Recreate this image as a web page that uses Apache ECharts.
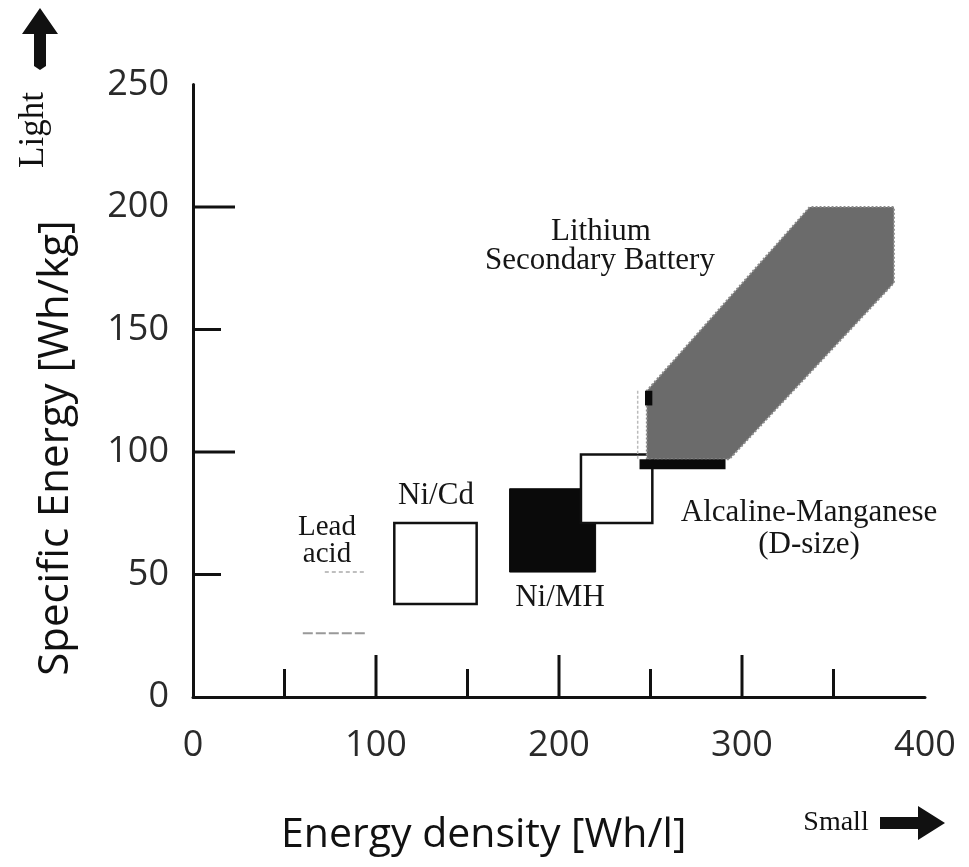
<!DOCTYPE html>
<html>
<head>
<meta charset="utf-8">
<script src="https://cdn.jsdelivr.net/npm/echarts@6/dist/echarts.min.js"></script>
<style>
html,body{margin:0;padding:0;background:#fff;}
#chart{width:969px;height:867px;}
</style>
</head>
<body>
<div id="chart"></div>
<script>
// ---- data ----
const xTickLabels = [0, 100, 200, 300, 400];
const yTickLabels = [0, 50, 100, 150, 200, 250];
const xMajorTicks = [100, 200, 300];
const xMinorTicks = [50, 150, 250, 350];
const yMajorTicks = [100, 200];
const yMinorTicks = [50, 150];

// rectangular battery regions: energy density [Wh/l] x specific energy [Wh/kg]
const batteryNames = ['Ni/Cd', 'Ni/MH', 'Alcaline-Manganese'];
const densityMin = [110, 173, 212];
const densityMax = [155, 220, 251];
const energyMin = [38, 51, 71];
const energyMax = [71, 85, 99];

// lead acid (faint bounds)
const leadDensity = [60, 94];
const leadEnergy = [26, 51];

// lithium secondary battery region (polygon)
const lithiumDensity = [248, 293, 383, 383, 337, 248];
const lithiumEnergy = [97, 97, 169, 200, 200, 125];
// dark base bar and small mark of the lithium region
const lithiumBarDensity = [244, 291];
const lithiumBarEnergy = [93, 97];
const lithiumMarkDensity = [247, 251];
const lithiumMarkEnergy = [119, 125];

const chart = echarts.init(document.getElementById('chart'));

const sansFont = 'Open Sans';
const serifFont = 'Liberation Serif';

function tickSeries(values, isX, len) {
  return {
    type: 'custom',
    silent: true,
    z: 5,
    data: values.map(v => [v]),
    renderItem: function (params, api) {
      const v = api.value(0);
      const p = isX ? api.coord([v, 0]) : api.coord([0, v]);
      const shape = isX
        ? { x1: p[0], y1: p[1], x2: p[0], y2: p[1] - len }
        : { x1: p[0], y1: p[1], x2: p[0] + len, y2: p[1] };
      return { type: 'line', shape: shape, style: { stroke: '#111', lineWidth: 3 } };
    }
  };
}

const rectData = batteryNames.map((n, i) => [densityMin[i], densityMax[i], energyMin[i], energyMax[i], i]);
const rectStyles = [
  { fill: '#fff', stroke: '#111', lineWidth: 2.5 },
  { fill: '#0a0a0a', stroke: '#0a0a0a', lineWidth: 1 },
  { fill: '#fff', stroke: '#111', lineWidth: 2.5 }
];

const lbl = (text, x, y, size) => ({
  type: 'text', x: x, y: y,
  style: { text: text, fontSize: size, fontFamily: serifFont, fill: '#151515', align: 'center', verticalAlign: 'middle' }
});

const option = {
  animation: false,
  backgroundColor: '#fff',
  grid: { left: 193, right: 44, top: 84.5, bottom: 170 },
  xAxis: {
    type: 'value', min: 0, max: 400, interval: 100,
    axisLine: { show: true, lineStyle: { color: '#111', width: 3 } },
    axisTick: { show: false },
    splitLine: { show: false },
    axisLabel: {
      fontSize: 36, fontFamily: sansFont, color: '#2a2a2a', margin: 31,
      formatter: v => (xTickLabels.indexOf(v) >= 0 ? String(v) : '')
    }
  },
  yAxis: {
    type: 'value', min: 0, max: 250, interval: 50,
    axisLine: { show: true, lineStyle: { color: '#111', width: 3 } },
    axisTick: { show: false },
    splitLine: { show: false },
    axisLabel: {
      fontSize: 36, fontFamily: sansFont, color: '#2a2a2a', margin: 24,
      formatter: v => (yTickLabels.indexOf(v) >= 0 ? String(v) : '')
    }
  },
  series: [
    tickSeries(xMajorTicks, true, 42),
    tickSeries(xMinorTicks, true, 28),
    tickSeries(yMajorTicks, false, 42),
    tickSeries(yMinorTicks, false, 28),
    {
      // lead acid faint bounds
      type: 'custom', silent: true, z: 2,
      data: [[leadDensity[0], leadDensity[1], leadEnergy[0], leadEnergy[1]]],
      renderItem: function (params, api) {
        const a = api.coord([api.value(0), api.value(3)]);
        const b = api.coord([api.value(1), api.value(2)]);
        return {
          type: 'group', children: [
            { type: 'line', shape: { x1: a[0] + 22, y1: a[1], x2: b[0], y2: a[1] }, style: { stroke: '#aaa', lineWidth: 1.5, lineDash: [4, 3] } },
            { type: 'line', shape: { x1: a[0], y1: b[1], x2: b[0], y2: b[1] }, style: { stroke: '#999', lineWidth: 2, lineDash: [10, 3] } }
          ]
        };
      }
    },
    {
      type: 'custom', silent: true, z: 3,
      data: rectData,
      renderItem: function (params, api) {
        const a = api.coord([api.value(0), api.value(3)]);
        const b = api.coord([api.value(1), api.value(2)]);
        const idx = api.value(4);
        return {
          type: 'rect',
          shape: { x: a[0], y: a[1], width: b[0] - a[0], height: b[1] - a[1] },
          style: rectStyles[idx]
        };
      }
    },
    {
      type: 'custom', silent: true, z: 4,
      data: [0],
      renderItem: function (params, api) {
        const pts = lithiumDensity.map((x, i) => api.coord([x, lithiumEnergy[i]]));
        const bar0 = api.coord([lithiumBarDensity[0], lithiumBarEnergy[1]]);
        const bar1 = api.coord([lithiumBarDensity[1], lithiumBarEnergy[0]]);
        const m0 = api.coord([lithiumMarkDensity[0], lithiumMarkEnergy[1]]);
        const m1 = api.coord([lithiumMarkDensity[1], lithiumMarkEnergy[0]]);
        const l0 = api.coord([lithiumBarDensity[0] - 1, lithiumMarkEnergy[1]]);
        const l1 = api.coord([lithiumBarDensity[0] - 1, lithiumBarEnergy[1]]);
        return {
          type: 'group', children: [
            { type: 'polygon', shape: { points: pts }, style: { fill: '#6b6b6b', stroke: '#8a8a8a', lineWidth: 2, lineDash: [2, 2] } },
            { type: 'line', shape: { x1: l0[0], y1: l0[1], x2: l1[0], y2: l1[1] }, style: { stroke: '#bbb', lineWidth: 1.5, lineDash: [3, 2] } },
            { type: 'rect', shape: { x: m0[0], y: m0[1], width: m1[0] - m0[0], height: m1[1] - m0[1] }, style: { fill: '#0a0a0a' } },
            { type: 'rect', shape: { x: bar0[0], y: bar0[1], width: bar1[0] - bar0[0], height: bar1[1] - bar0[1] }, style: { fill: '#0a0a0a' } }
          ]
        };
      }
    }
  ],
  graphic: [
    // axis titles
    { type: 'text', left: 281, top: 815, style: { text: 'Energy density [Wh/l]', fontSize: 41, fontFamily: sansFont, fill: '#111' } },
    { type: 'text', x: 56, y: 448, rotation: Math.PI / 2, style: { text: 'Specific Energy [Wh/kg]', fontSize: 42, fontFamily: sansFont, fill: '#111', align: 'center', verticalAlign: 'middle' } },
    // "Light" with up arrow
    { type: 'text', x: 34, y: 130, rotation: Math.PI / 2, style: { text: 'Light', fontSize: 35, fontFamily: serifFont, fill: '#111', align: 'center', verticalAlign: 'middle' } },
    { type: 'polygon', shape: { points: [[40, 8], [58, 34], [46, 34], [46, 66], [40, 70], [34, 66], [34, 34], [22, 34]] }, style: { fill: '#111' } },
    // "Small" with right arrow
    { type: 'text', x: 836, y: 823, style: { text: 'Small', fontSize: 28, fontFamily: serifFont, fill: '#111', align: 'center', verticalAlign: 'middle' } },
    { type: 'polygon', shape: { points: [[880, 817], [918, 817], [918, 806], [945, 823], [918, 840], [918, 829], [880, 829]] }, style: { fill: '#111' } },
    // region labels
    lbl('Lithium', 601, 232, 31),
    lbl('Secondary Battery', 600, 261, 31),
    lbl('Alcaline-Manganese', 809, 513, 31),
    lbl('(D-size)', 809, 545, 31),
    lbl('Ni/MH', 560, 598, 31),
    lbl('Ni/Cd', 436, 496, 31),
    lbl('Lead', 327, 527, 29),
    lbl('acid', 327, 554, 29)
  ]
};

chart.setOption(option);
</script>
</body>
</html>
